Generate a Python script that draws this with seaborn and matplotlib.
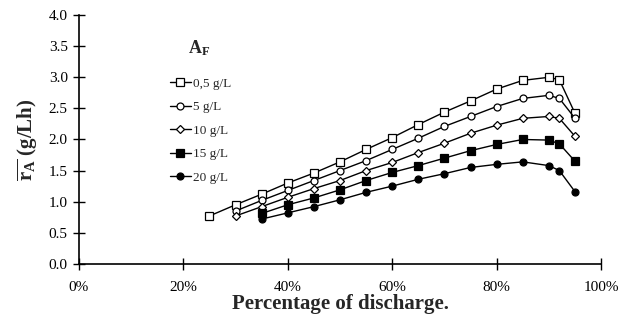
import matplotlib
matplotlib.use("Agg")
import matplotlib.pyplot as plt
import seaborn as sns
import pandas as pd
from matplotlib.ticker import PercentFormatter, MultipleLocator

sns.set_theme(style="ticks")
plt.rcParams['font.family'] = ['Liberation Serif', 'DejaVu Serif']
plt.rcParams['mathtext.fontset'] = 'custom'
plt.rcParams['mathtext.rm'] = 'Liberation Serif'
plt.rcParams['mathtext.bf'] = 'Liberation Serif:bold'
plt.rcParams['mathtext.it'] = 'Liberation Serif:italic'

labels = ["0,5 g/L", "5 g/L", "10 g/L", "15 g/L", "20 g/L"]

x_05 = [25, 30, 35, 40, 45, 50, 55, 60, 65, 70, 75, 80, 85, 90, 92, 95]
y_05 = [0.77, 0.95, 1.12, 1.30, 1.46, 1.64, 1.84, 2.03, 2.24, 2.44, 2.62, 2.81, 2.95, 3.00, 2.96, 2.42]

x_5 = [30, 35, 40, 45, 50, 55, 60, 65, 70, 75, 80, 85, 90, 92, 95]
y_5 = [0.85, 1.02, 1.18, 1.34, 1.50, 1.66, 1.84, 2.02, 2.21, 2.37, 2.53, 2.66, 2.71, 2.66, 2.34]

x_10 = [30, 35, 40, 45, 50, 55, 60, 65, 70, 75, 80, 85, 90, 92, 95]
y_10 = [0.77, 0.92, 1.07, 1.21, 1.34, 1.50, 1.63, 1.79, 1.94, 2.10, 2.23, 2.34, 2.37, 2.34, 2.05]

x_15 = [35, 40, 45, 50, 55, 60, 65, 70, 75, 80, 85, 90, 92, 95]
y_15 = [0.81, 0.95, 1.06, 1.19, 1.34, 1.47, 1.58, 1.70, 1.82, 1.92, 2.00, 1.99, 1.93, 1.65]

x_20 = [35, 40, 45, 50, 55, 60, 65, 70, 75, 80, 85, 90, 92, 95]
y_20 = [0.72, 0.82, 0.92, 1.03, 1.15, 1.25, 1.36, 1.45, 1.55, 1.60, 1.64, 1.58, 1.50, 1.16]

xs = [x_05, x_5, x_10, x_15, x_20]
ys = [y_05, y_5, y_10, y_15, y_20]
markers = ["s", "o", "D", "s", "o"]
faces = ["white", "white", "white", "black", "black"]
msizes = [5.5, 5, 4, 5.5, 5]

fig = plt.figure(figsize=(6.21, 3.21), dpi=100)
ax = fig.add_axes([0.127, 0.178, 0.841, 0.775])

for xv, yv, lab, m, fc, ms in zip(xs, ys, labels, markers, faces, msizes):
    df = pd.DataFrame({"x": [v / 100 for v in xv], "y": yv})
    sns.lineplot(data=df, x="x", y="y", ax=ax, color="black", linewidth=1.0,
                 marker=m, markerfacecolor=fc, markeredgecolor="black",
                 markeredgewidth=0.9, markersize=ms, label=lab)

ax.set_xlim(0, 1.0)
ax.set_ylim(0, 4.0)
ax.xaxis.set_major_locator(MultipleLocator(0.2))
ax.xaxis.set_major_formatter(PercentFormatter(1.0, decimals=0))
ax.yaxis.set_major_locator(MultipleLocator(0.5))
ax.yaxis.set_major_formatter(plt.FuncFormatter(lambda v, p: f"{v:.1f}"))
for s in ["top", "right"]:
    ax.spines[s].set_visible(False)
for s in ["left", "bottom"]:
    ax.spines[s].set_color("black")
    ax.spines[s].set_linewidth(1.2)
ax.tick_params(direction="inout", length=8, width=1, colors="black", labelsize=11)
ax.tick_params(axis="x", pad=8)
ax.tick_params(axis="y", pad=4)

ax.set_xlabel("Percentage of discharge.", fontsize=15, fontweight="bold", labelpad=0)
ax.set_ylabel(r"$\overline{\mathbf{r}_{\mathbf{A}}}$ (g/Lh)", fontsize=15, fontweight="bold", labelpad=6)

leg = ax.legend(loc="upper left", bbox_to_anchor=(0.151, 0.796), frameon=False,
                fontsize=9.5, handlelength=1.6, handletextpad=0.2, labelspacing=0.85)
ax.text(0.209, 0.867, r"$\mathbf{A_F}$", transform=ax.transAxes, fontsize=13,
        ha="left", va="center")

fig.savefig("out.png", dpi=100)
